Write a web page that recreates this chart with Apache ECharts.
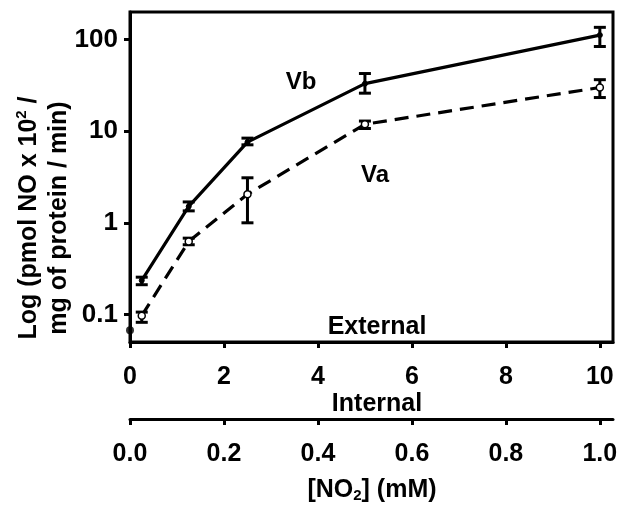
<!DOCTYPE html>
<html>
<head>
<meta charset="utf-8">
<script src="https://cdn.jsdelivr.net/npm/echarts@6/dist/echarts.min.js"></script>
<style>html,body{margin:0;padding:0;background:#fff;}#c{width:621px;height:510px;}</style>
</head>
<body>
<div id="c"></div>
<script>
// ---- data ----
const xExternal = [0.25, 1.25, 2.5, 5, 10];
const vbValues = [0.235, 1.51, 7.6, 33, 112];
const vbLow = [0.211, 1.35, 7.1, 26, 84];
const vbHigh = [0.255, 1.69, 8.4, 42.6, 136];
const vaValues = [0.097, 0.625, 2.05, 11.9, 30];
const vaLow = [0.082, 0.576, 1.0, 10.7, 23.3];
const vaHigh = [0.106, 0.68, 3.1, 12.9, 36.5];
const originPoint = [[0, 0.067]];
const externalTicks = [0, 2, 4, 6, 8, 10];
const internalTicks = [0, 0.2, 0.4, 0.6, 0.8, 1.0];
const yTicks = [0.1, 1, 10, 100];

const FONT = '"Liberation Sans", Arial, sans-serif';
const chart = echarts.init(document.getElementById('c'));

function errorSeries(xs, lo, hi) {
  return {
    type: 'custom',
    xAxisIndex: 0,
    yAxisIndex: 0,
    clip: false,
    z: 5,
    data: xs.map((x, i) => [x, lo[i], hi[i]]),
    encode: { x: 0, y: [1, 2] },
    renderItem: function (params, api) {
      const x = api.value(0);
      const p1 = api.coord([x, api.value(2)]);
      const p2 = api.coord([x, api.value(1)]);
      const w = 6;
      const st = { stroke: '#000', lineWidth: 3 };
      return {
        type: 'group',
        children: [
          { type: 'line', shape: { x1: p1[0], y1: p1[1], x2: p2[0], y2: p2[1] }, style: st },
          { type: 'line', shape: { x1: p1[0] - w, y1: p1[1], x2: p1[0] + w, y2: p1[1] }, style: st },
          { type: 'line', shape: { x1: p2[0] - w, y1: p2[1], x2: p2[0] + w, y2: p2[1] }, style: st }
        ]
      };
    }
  };
}

const option = {
  animation: false,
  backgroundColor: '#fff',
  textStyle: { fontFamily: FONT, fontWeight: 'bold', color: '#000' },
  grid: { left: 130, top: 12, right: 8, bottom: 168, show: true, borderColor: '#000', borderWidth: 3, containLabel: false },
  xAxis: [
    {
      type: 'value', min: 0, max: 10.28, position: 'bottom',
      splitLine: { show: false },
      axisLine: { show: true, lineStyle: { color: '#000', width: 3 } },
      axisTick: { show: true, inside: false, length: 6, lineStyle: { color: '#000', width: 3 }, customValues: externalTicks },
      axisLabel: { margin: 23, fontSize: 25, fontWeight: 'bold', color: '#000', fontFamily: FONT, customValues: externalTicks, formatter: v => String(v) }
    },
    {
      type: 'value', min: 0, max: 1.028, position: 'bottom', offset: 77,
      splitLine: { show: false },
      axisLine: { show: true, lineStyle: { color: '#000', width: 3 } },
      axisTick: { show: true, inside: false, length: 6, lineStyle: { color: '#000', width: 3 }, customValues: internalTicks },
      axisLabel: { margin: 23, fontSize: 25, fontWeight: 'bold', color: '#000', fontFamily: FONT, customValues: internalTicks, formatter: v => v.toFixed(1) }
    }
  ],
  yAxis: {
    type: 'log', logBase: 10, min: 0.05, max: 200,
    splitLine: { show: false },
    axisLine: { show: true, lineStyle: { color: '#000', width: 3 } },
    axisTick: { show: true, inside: false, length: 6, lineStyle: { color: '#000', width: 3 }, customValues: yTicks },
    axisLabel: { margin: 12, fontSize: 26, fontWeight: 'bold', color: '#000', fontFamily: FONT, customValues: yTicks, formatter: v => String(v) }
  },
  series: [
    {
      name: 'Vb', type: 'line', xAxisIndex: 0,
      data: xExternal.map((x, i) => [x, vbValues[i]]),
      lineStyle: { color: '#000', width: 3.2, type: 'solid' },
      symbol: 'circle', symbolSize: 5,
      itemStyle: { color: '#000', borderColor: '#000', borderWidth: 1 },
      z: 3
    },
    {
      name: 'Va', type: 'line', xAxisIndex: 0,
      data: xExternal.map((x, i) => [x, vaValues[i]]),
      lineStyle: { color: '#000', width: 3.2, type: [14, 8] },
      symbol: 'circle', symbolSize: 7, showAllSymbol: true,
      itemStyle: { color: '#fff', borderColor: '#000', borderWidth: 1.5 },
      z: 6
    },
    errorSeries(xExternal, vbLow, vbHigh),
    errorSeries(xExternal, vaLow, vaHigh),
    {
      type: 'scatter', xAxisIndex: 0, data: originPoint, clip: false,
      symbol: 'circle', symbolSize: 8, itemStyle: { color: '#000' }, z: 7
    }
  ],
  graphic: [
    {
      type: 'text', x: 44, y: 218, rotation: Math.PI / 2,
      style: {
        text: 'Log (pmol NO x 10{sup|2} /\nmg of protein / min)',
        font: 'bold 25px ' + FONT, fill: '#000', align: 'center', verticalAlign: 'middle', lineHeight: 30,
        rich: { sup: { fontSize: 15, fontWeight: 'bold', fontFamily: FONT, verticalAlign: 'top', lineHeight: 30 } }
      }
    },
    {
      type: 'text', x: 372, y: 490,
      style: {
        text: '[NO{sub|2}] (mM)',
        font: 'bold 25px ' + FONT, fill: '#000', align: 'center', verticalAlign: 'middle',
        rich: { sub: { fontSize: 15, fontWeight: 'bold', fontFamily: FONT, verticalAlign: 'bottom', padding: [12, 0, 0, 0] } }
      }
    },
    { type: 'text', x: 377, y: 327, style: { text: 'External', font: 'bold 25px ' + FONT, fill: '#000', align: 'center', verticalAlign: 'middle' } },
    { type: 'text', x: 377, y: 404, style: { text: 'Internal', font: 'bold 25px ' + FONT, fill: '#000', align: 'center', verticalAlign: 'middle' } },
    { type: 'text', x: 301, y: 82, style: { text: 'Vb', font: 'bold 24px ' + FONT, fill: '#000', align: 'center', verticalAlign: 'middle' } },
    { type: 'text', x: 375, y: 175, style: { text: 'Va', font: 'bold 24px ' + FONT, fill: '#000', align: 'center', verticalAlign: 'middle' } }
  ]
};
chart.setOption(option);
</script>
</body>
</html>
